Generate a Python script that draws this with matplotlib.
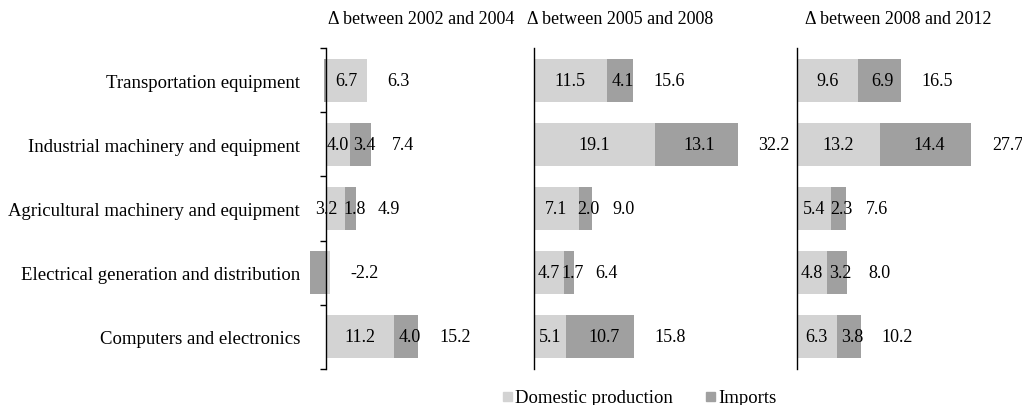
import numpy as np
import matplotlib.pyplot as plt
from matplotlib.patches import Rectangle

plt.rcParams['font.family'] = ['Liberation Serif', 'DejaVu Serif']

# Data
categories = ['Transportation equipment', 'Industrial machinery and equipment',
              'Agricultural machinery and equipment', 'Electrical generation and distribution',
              'Computers and electronics']
periods = ['\u0394 between 2002 and 2004', '\u0394 between 2005 and 2008', '\u0394 between 2008 and 2012']
series = ['Domestic production', 'Imports']

domestic_02_04 = [6.7, 4.0, 3.2, 0.6, 11.2]
imports_02_04 = [-0.4, 3.4, 1.8, -2.7, 4.0]
total_02_04 = [6.3, 7.4, 4.9, -2.2, 15.2]

domestic_05_08 = [11.5, 19.1, 7.1, 4.7, 5.1]
imports_05_08 = [4.1, 13.1, 2.0, 1.7, 10.7]
total_05_08 = [15.6, 32.2, 9.0, 6.4, 15.8]

domestic_08_12 = [9.6, 13.2, 5.4, 4.8, 6.3]
imports_08_12 = [6.9, 14.4, 2.3, 3.2, 3.8]
total_08_12 = [16.5, 27.7, 7.6, 8.0, 10.2]

light = '#d3d3d3'
dark = '#a0a0a0'
W, H = 1022, 406

fig = plt.figure(figsize=(W / 100, H / 100), dpi=100)

# axes placement in pixels: left, right, xmin, xmax, title centre
panels = [
    (306, 520, -3.3, 32.0, domestic_02_04, imports_02_04, total_02_04, 421),
    (534, 780, 0, 38.9, domestic_05_08, imports_05_08, total_05_08, 620),
    (797, 1022, 0, 35.7, domestic_08_12, imports_08_12, total_08_12, 898),
]
top_px, bot_px = 49, 370
y = np.arange(len(categories))

for i, (l, r, xmin, xmax, dom, imp, tot, tx) in enumerate(panels):
    ax = fig.add_axes([l / W, 1 - bot_px / H, (r - l) / W, (bot_px - top_px) / H])
    ax.set_xlim(xmin, xmax)
    ax.set_ylim(len(categories) - 0.5, -0.5)
    dom = np.array(dom)
    imp = np.array(imp)
    pos = np.zeros(len(y))
    neg = np.zeros(len(y))
    # stack positives and negatives separately, like the spreadsheet does
    for k, (vals, col) in enumerate([(dom, light), (imp, dark)]):
        left = np.where(vals >= 0, pos, neg)
        ax.barh(y, vals, left=left, height=0.67, color=col)
        for yy, v, lf in zip(y, vals, left):
            if v < 1:
                continue
            # import labels sit a bit right; a cramped domestic label is pushed left
            if k == 0:
                dx = -6.5 if v < 3.5 else 0
            else:
                dx = 2.5
            ax.annotate(f'{v:.1f}', (lf + v / 2, yy), xytext=(dx, 0), textcoords='offset points',
                        ha='center', va='center', fontsize=13)
        pos = pos + np.clip(vals, 0, None)
        neg = neg + np.clip(vals, None, 0)
    for yy, p, t in zip(y, pos, tot):
        ax.annotate(f'{t:.1f}', (p, yy), xytext=(15, 0), textcoords='offset points',
                    ha='left', va='center', fontsize=13)

    for s in ['top', 'right', 'bottom']:
        ax.spines[s].set_visible(False)
    ax.spines['left'].set_position(('data', 0))
    ax.spines['left'].set_linewidth(1.0)
    ax.set_xticks([])
    if i == 0:
        ax.set_yticks(y)
        ax.set_yticklabels(categories, fontsize=13.5)
        ax.tick_params(axis='y', which='major', length=0, pad=18.7)
        ax.set_yticks(np.arange(-0.5, len(categories)), minor=True)
        ax.tick_params(axis='y', which='minor', length=4, width=1.0, direction='out')
    else:
        ax.set_yticks([])
    fig.text(tx / W, 1 - 20 / H, periods[i], ha='center', va='center', fontsize=13)

# legend drawn by hand
for name, col, sx in zip(series, [light, dark], [503, 706]):
    fig.add_artist(Rectangle((sx / W, 1 - 402 / H), 9 / W, 9 / H, color=col,
                             transform=fig.transFigure))
    fig.text((sx + 12) / W, 1 - 399 / H, name, ha='left', va='center', fontsize=13.5)

fig.savefig('out.png', dpi=100)
